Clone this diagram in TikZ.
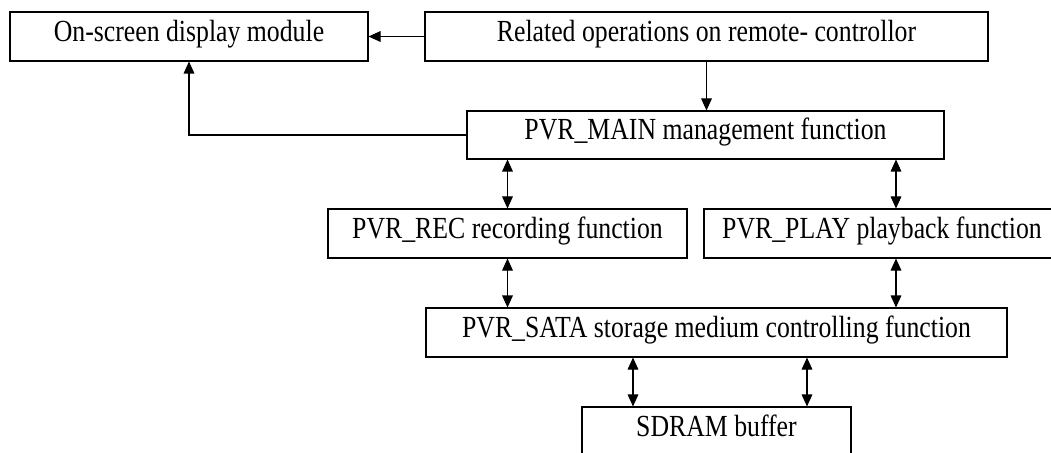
\documentclass[tikz,border=0pt]{standalone}
\usepackage{fontspec}
\setmainfont{Liberation Serif}[FakeStretch=0.84]
\usetikzlibrary{arrows.meta}

\begin{document}
\begin{tikzpicture}[x=0.75pt,y=-0.75pt,
    blk/.style={draw,line width=.8pt,inner sep=0pt,minimum height=36.75pt,
      font=\fontsize{23}{27}\selectfont,text height=.78em,text depth=.1em},
    arr/.style={-{Triangle[length=9pt,width=8pt]},line width=.8pt},
    darr/.style={{Triangle[length=9pt,width=8pt]}-{Triangle[length=9pt,width=8pt]},line width=.8pt}]
  \useasboundingbox (0,0) rectangle (1051,453);
  % boxes
  \node[blk,minimum width=268.5pt] (osd) at (189,36.5) {On-screen display module};
  \node[blk,minimum width=422.25pt] (remote) at (706.5,36.5) {Related operations on remote- controllor};
  \node[blk,minimum width=357.75pt,minimum height=36pt] (main) at (705.5,135) {PVR\_MAIN management function};
  \node[blk,minimum width=269.25pt] (rec) at (507.5,233.5) {PVR\_REC recording function};
  \node[blk,minimum width=288pt] (play) at (896,233.5) {PVR\_PLAY playback function\hspace*{21pt}};
  \node[blk,minimum width=435.75pt] (sata) at (716.5,332.5) {PVR\_SATA storage medium controlling function};
  \node[blk,minimum width=201.75pt] (sdram) at (716.5,431.5) {SDRAM buffer};
  % connectors
  \draw[arr] (remote.west) -- (osd.east);
  \draw[arr] (remote.south) -- (remote.south |- main.north);
  \draw[arr] (main.west) -| (osd.south);
  \draw[darr] (rec.north |- main.south) -- (rec.north);
  \draw[darr] (play.north |- main.south) -- (play.north);
  \draw[darr] (rec.south) -- (rec.south |- sata.north);
  \draw[darr] (play.south) -- (play.south |- sata.north);
  \foreach \x in {633,807}
    \draw[darr] (\x,0 |- sata.south) -- (\x,0 |- sdram.north);
\end{tikzpicture}
\end{document}
